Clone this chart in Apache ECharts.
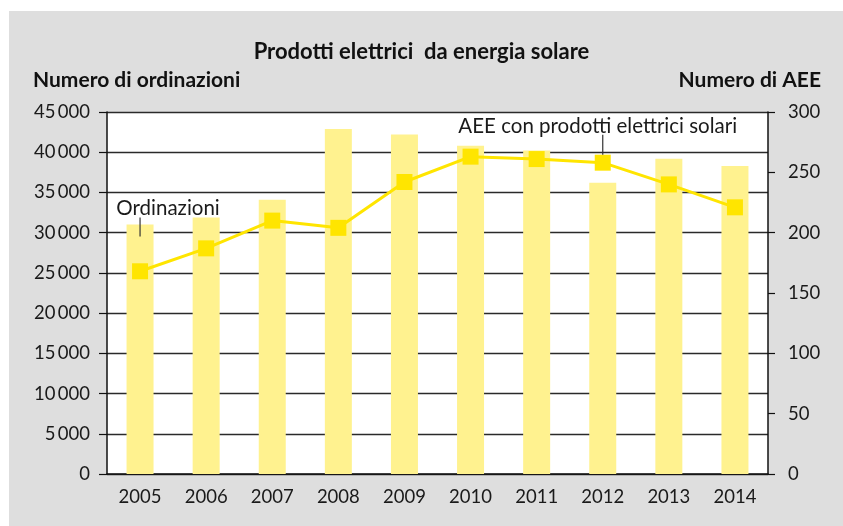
<!DOCTYPE html>
<html>
<head>
<meta charset="utf-8">
<script src="https://cdn.jsdelivr.net/npm/echarts@6/dist/echarts.min.js"></script>
<style>
html,body{margin:0;padding:0;background:#fff;}
#c{width:843px;height:526px;}
</style>
</head>
<body>
<div id="c"></div>
<script>
var years = ['2005','2006','2007','2008','2009','2010','2011','2012','2013','2014'];
var ordinazioni = [31000, 31900, 34100, 42900, 42200, 40800, 40200, 36200, 39200, 38300];
var aee = [168, 187, 210, 204, 242, 263, 261, 258, 240, 221];
var leftTicks = [0, 5000, 10000, 15000, 20000, 25000, 30000, 35000, 40000, 45000];
var rightTicks = [0, 50, 100, 150, 200, 250, 300];

var FONT = 'Lato';
function fmtThousands(v){
  var s = String(v);
  if (s.length > 3) s = s.slice(0, s.length-3) + '\u2009' + s.slice(s.length-3);
  return s;
}

var chart = echarts.init(document.getElementById('c'), null, {renderer:'canvas'});
var option = {
  backgroundColor: '#dedede',
  animation: false,
  textStyle: {fontFamily: FONT, color: '#1a1a1a'},
  title: {
    text: 'Prodotti elettrici  da energia solare',
    left: 'center', top: 36,
    textStyle: {fontFamily: FONT, fontSize: 22, fontWeight: 'bold', color: '#111'}
  },
  grid: {left: 107, right: 75, top: 112, bottom: 52, show: true, backgroundColor: '#fff', borderWidth: 0},
  xAxis: {
    type: 'category', data: years,
    axisLine: {show: true, lineStyle: {color: '#111', width: 1.5}},
    axisTick: {show: false},
    axisLabel: {fontFamily: FONT, fontSize: 18.5, color: '#1a1a1a', margin: 14}
  },
  yAxis: [{
    type: 'value', min: leftTicks[0], max: leftTicks[leftTicks.length-1], interval: leftTicks[1]-leftTicks[0],
    position: 'left',
    axisLine: {show: true, lineStyle: {color: '#111', width: 1.5}},
    axisTick: {show: true, length: 8, lineStyle: {color: '#111', width: 1.2}},
    splitLine: {show: true, lineStyle: {color: '#2a2a2a', width: 1.3}},
    axisLabel: {fontFamily: FONT, fontSize: 18.5, color: '#1a1a1a', margin: 17, formatter: fmtThousands}
  }, {
    type: 'value', min: rightTicks[0], max: rightTicks[rightTicks.length-1], interval: rightTicks[1]-rightTicks[0],
    position: 'right',
    axisLine: {show: true, lineStyle: {color: '#111', width: 1.5}},
    axisTick: {show: true, length: 7, lineStyle: {color: '#111', width: 1.2}},
    splitLine: {show: false},
    axisLabel: {fontFamily: FONT, fontSize: 18.5, color: '#1a1a1a', margin: 20}
  }],
  series: [{
    name: 'Ordinazioni', type: 'bar', data: ordinazioni, yAxisIndex: 0,
    barWidth: 27, itemStyle: {color: '#fff28f'}, z: 2
  }, {
    name: 'AEE con prodotti elettrici solari', type: 'line', data: aee, yAxisIndex: 1,
    symbol: 'rect', symbolSize: 16,
    lineStyle: {color: '#ffe500', width: 3},
    itemStyle: {color: '#ffe500'}, z: 3
  }]
};
chart.setOption(option);

function px(axisIdx, cat, val){
  return chart.convertToPixel({xAxisIndex: 0, yAxisIndex: axisIdx}, [cat, val]);
}
var pOrd = px(0, years[0], ordinazioni[0]);
var pAee = px(1, years[7], aee[7]);

chart.setOption({
  graphic: [
    {type: 'rect', shape: {x: 0, y: 0, width: 843, height: 11}, style: {fill: '#fff'}, silent: true, z: 100},
    {type: 'rect', shape: {x: 0, y: 0, width: 9, height: 526}, style: {fill: '#fff'}, silent: true, z: 100},
    {type: 'text', left: 33, top: 70, style: {text: 'Numero di ordinazioni', font: 'bold 21px ' + FONT, fill: '#111'}, z: 100},
    {type: 'text', right: 22, top: 70, style: {text: 'Numero di AEE', font: 'bold 21px ' + FONT, fill: '#111'}, z: 100},
    {type: 'line', shape: {x1: pOrd[0], y1: pOrd[1] - 7, x2: pOrd[0], y2: pOrd[1] + 12}, style: {stroke: '#333', lineWidth: 1.2}, z: 100},
    {type: 'text', x: pOrd[0] + 28, y: pOrd[1] - 6, style: {text: 'Ordinazioni', font: '20.5px ' + FONT, fill: '#1a1a1a', textAlign: 'center', textVerticalAlign: 'bottom'}, z: 100},
    {type: 'line', shape: {x1: pAee[0], y1: pAee[1] - 28, x2: pAee[0], y2: pAee[1] - 8}, style: {stroke: '#333', lineWidth: 1.2}, z: 100},
    {type: 'text', x: pAee[0] - 5, y: pAee[1] - 26, style: {text: 'AEE con prodotti elettrici solari', font: '20.5px ' + FONT, fill: '#1a1a1a', textAlign: 'center', textVerticalAlign: 'bottom'}, z: 100}
  ]
});
</script>
</body>
</html>
